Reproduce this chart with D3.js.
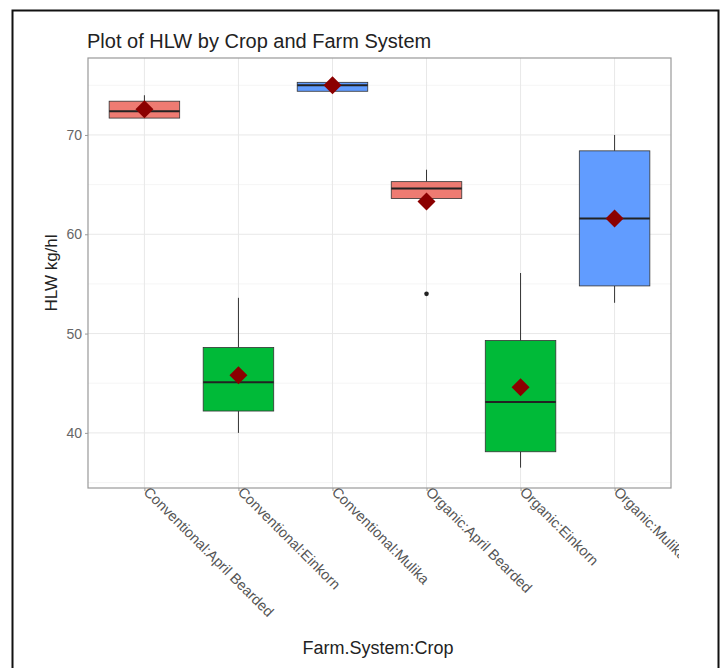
<!DOCTYPE html>
<html>
<head>
<meta charset="utf-8">
<script src="https://cdn.jsdelivr.net/npm/d3@7"></script>
<style>
  body { margin: 0; background: #fff; }
  svg { display: block; font-family: "Liberation Sans", Arial, sans-serif; }
</style>
</head>
<body>
<svg id="chart" width="720" height="668"></svg>
<script>
// categories (Farm.System:Crop)
const categories = [
  "Conventional:April Bearded", "Conventional:Einkorn", "Conventional:Mulika",
  "Organic:April Bearded", "Organic:Einkorn", "Organic:Mulika"
];
const crops = ["April Bearded", "Einkorn", "Mulika", "April Bearded", "Einkorn", "Mulika"];

// box statistics
const whiskerLow  = [71.7, 40.0, 74.4, 63.6, 36.5, 53.1];
const q1          = [71.7, 42.2, 74.4, 63.6, 38.1, 54.8];
const medians     = [72.4, 45.1, 75.0, 64.6, 43.1, 61.6];
const q3          = [73.4, 48.6, 75.3, 65.3, 49.3, 68.4];
const whiskerHigh = [74.0, 53.6, 75.3, 66.5, 56.1, 70.0];
const means       = [72.6, 45.8, 75.0, 63.3, 44.6, 61.6];
const outliers    = [[], [], [], [54.0], [], []];

const yTicks = [40, 50, 60, 70];
const yMinor = [35, 45, 55, 65, 75];
const cropColours = { "April Bearded": "#ee7b72", "Einkorn": "#00ba38", "Mulika": "#619cff" };

const svg = d3.select("#chart");
const margin = { top: 58, right: 49, bottom: 180, left: 88 };
const W = 720, H = 668;

// the screenshot was cropped on the right, cutting the last label
svg.append("defs").append("clipPath").attr("id", "cut")
  .append("rect").attr("x", 0).attr("y", 0).attr("width", 679).attr("height", H);

// outer frame of the image
svg.append("rect")
  .attr("x", 12.5).attr("y", 10.5)
  .attr("width", 706).attr("height", 700)
  .attr("fill", "none").attr("stroke", "#111").attr("stroke-width", 2);

const x = d3.scalePoint()
  .domain(categories)
  .range([margin.left, W - margin.right])
  .padding(0.6);
const step = x.step();
const boxW = step * 0.75;

const y = d3.scaleLinear()
  .domain([34.45, 77.75])
  .range([H - margin.bottom, margin.top]);

const pLeft = margin.left, pRight = W - margin.right;
const pTop = margin.top, pBottom = H - margin.bottom;

// grid lines
svg.append("g").selectAll("line").data(yMinor).join("line")
  .attr("x1", pLeft).attr("x2", pRight)
  .attr("y1", d => y(d)).attr("y2", d => y(d))
  .attr("stroke", "#f3f3f3").attr("stroke-width", 0.8);
svg.append("g").selectAll("line").data(yTicks).join("line")
  .attr("x1", pLeft).attr("x2", pRight)
  .attr("y1", d => y(d)).attr("y2", d => y(d))
  .attr("stroke", "#e8e8e8").attr("stroke-width", 1);
svg.append("g").selectAll("line").data(categories).join("line")
  .attr("x1", d => x(d)).attr("x2", d => x(d))
  .attr("y1", pTop).attr("y2", pBottom)
  .attr("stroke", "#e8e8e8").attr("stroke-width", 1);

// boxes
const boxes = svg.append("g").selectAll("g").data(categories).join("g");

boxes.append("line")
  .attr("x1", d => x(d)).attr("x2", d => x(d))
  .attr("y1", (d, i) => y(whiskerHigh[i])).attr("y2", (d, i) => y(q3[i]))
  .attr("stroke", "#333").attr("stroke-width", 1);
boxes.append("line")
  .attr("x1", d => x(d)).attr("x2", d => x(d))
  .attr("y1", (d, i) => y(q1[i])).attr("y2", (d, i) => y(whiskerLow[i]))
  .attr("stroke", "#333").attr("stroke-width", 1);
boxes.append("rect")
  .attr("x", d => x(d) - boxW / 2)
  .attr("width", boxW)
  .attr("y", (d, i) => y(q3[i]))
  .attr("height", (d, i) => y(q1[i]) - y(q3[i]))
  .attr("fill", (d, i) => cropColours[crops[i]])
  .attr("stroke", "#333").attr("stroke-width", 0.8);
boxes.append("line")
  .attr("x1", d => x(d) - boxW / 2).attr("x2", d => x(d) + boxW / 2)
  .attr("y1", (d, i) => y(medians[i])).attr("y2", (d, i) => y(medians[i]))
  .attr("stroke", "#222").attr("stroke-width", 2);

// outliers
categories.forEach((c, i) => {
  svg.append("g").selectAll("circle").data(outliers[i]).join("circle")
    .attr("cx", x(c)).attr("cy", d => y(d)).attr("r", 2.3)
    .attr("fill", "#222");
});

// means
svg.append("g").selectAll("path").data(categories).join("path")
  .attr("transform", (d, i) => `translate(${x(d)},${y(means[i])})`)
  .attr("d", "M0,-9L9,0L0,9L-9,0Z")
  .attr("fill", "#8b0000");

// panel border
svg.append("rect")
  .attr("x", pLeft).attr("y", pTop)
  .attr("width", pRight - pLeft).attr("height", pBottom - pTop)
  .attr("fill", "none").attr("stroke", "#999").attr("stroke-width", 1.2);

// y axis
const yAxis = svg.append("g")
  .attr("transform", `translate(${pLeft},0)`)
  .call(d3.axisLeft(y).tickValues(yTicks).tickSize(3).tickPadding(3));
yAxis.select(".domain").remove();
yAxis.selectAll("line").attr("stroke", "#999");
yAxis.selectAll("text").attr("fill", "#666").style("font-size", "14px");

// x axis
const xAxis = svg.append("g")
  .attr("clip-path", "url(#cut)")
  .append("g")
  .attr("transform", `translate(0,${pBottom})`)
  .call(d3.axisBottom(x).tickSize(3).tickPadding(2));
xAxis.select(".domain").remove();
xAxis.selectAll("line").attr("stroke", "#999");
xAxis.selectAll("text")
  .attr("fill", "#555").style("font-size", "14.5px")
  .attr("text-anchor", "start")
  .attr("dy", "0.2em")
  .attr("transform", "rotate(45)")
  .attr("x", 2).attr("y", 2);

// titles
svg.append("text")
  .attr("x", pLeft - 1).attr("y", 48)
  .attr("fill", "#222").style("font-size", "20px")
  .text("Plot of HLW by Crop and Farm System");

svg.append("text")
  .attr("transform", `translate(57,${(pTop + pBottom) / 2}) rotate(-90)`)
  .attr("text-anchor", "middle")
  .attr("fill", "#222").style("font-size", "17px")
  .text("HLW kg/hl");

svg.append("text")
  .attr("x", 378).attr("y", 654)
  .attr("text-anchor", "middle")
  .attr("fill", "#222").style("font-size", "18px")
  .text("Farm.System:Crop");
</script>
</body>
</html>
